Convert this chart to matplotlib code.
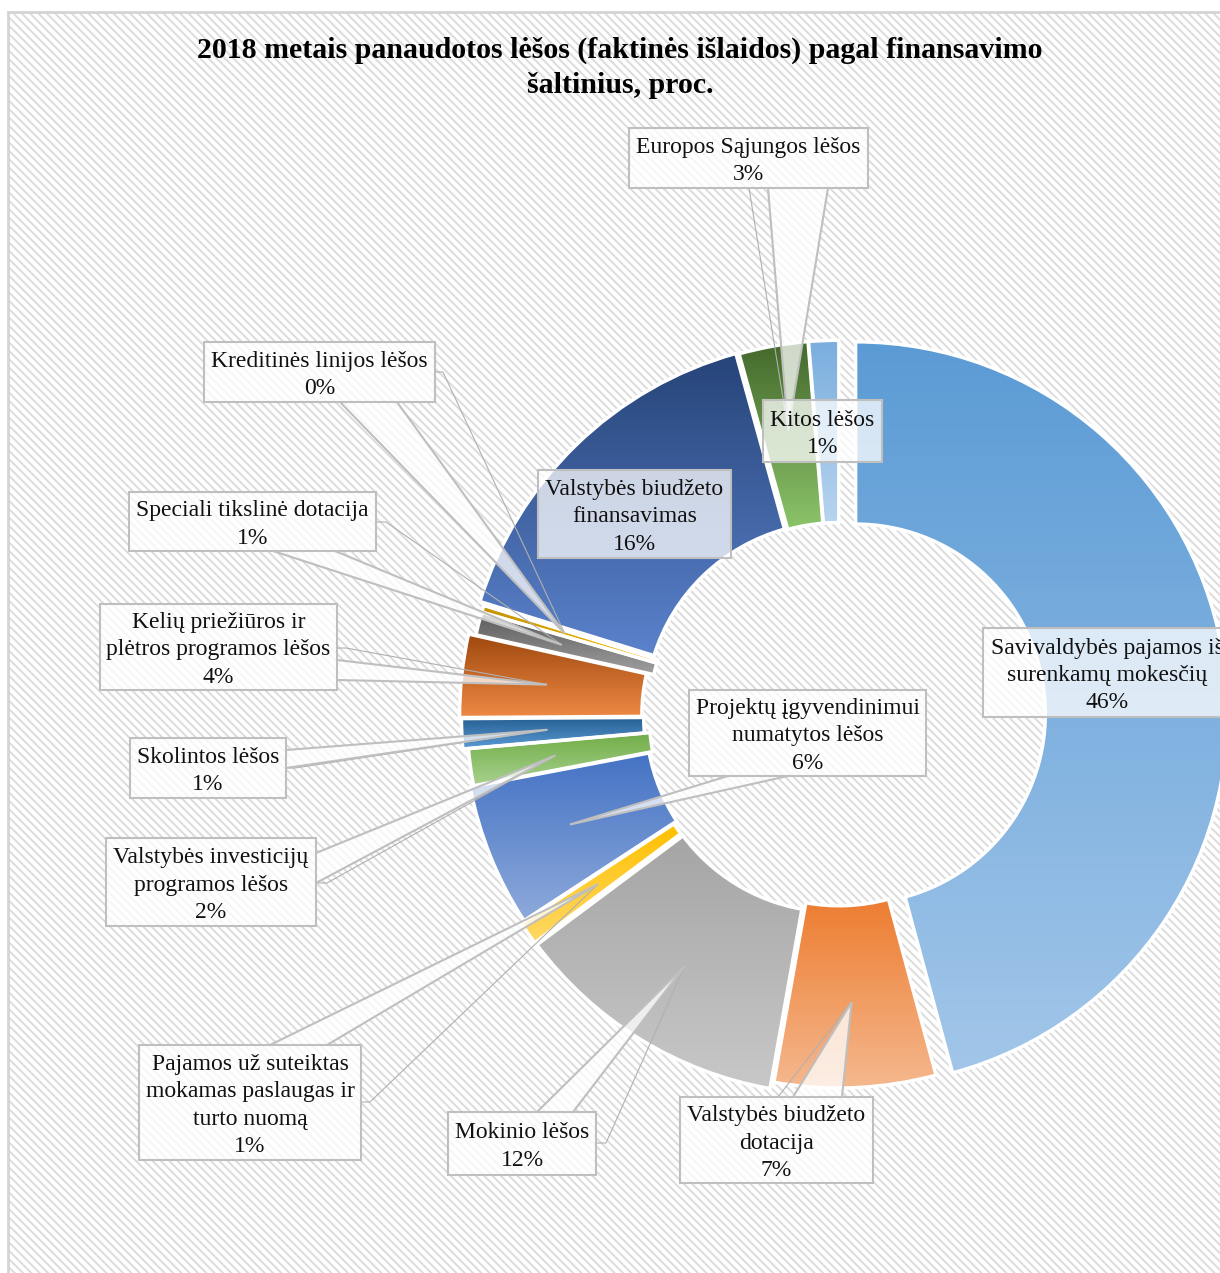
import numpy as np
import matplotlib.pyplot as plt
from matplotlib.patches import Rectangle, Polygon
from matplotlib.colors import LinearSegmentedColormap

# Sources of funds, share of 2018 actual expenditure (%), clockwise from 12 o'clock
sources = [
    "Savivaldybės pajamos iš\nsurenkamų mokesčių",
    "Valstybės biudžeto\ndotacija",
    "Mokinio lėšos",
    "Pajamos už suteiktas\nmokamas paslaugas ir\nturto nuomą",
    "Projektų įgyvendinimui\nnumatytos lėšos",
    "Valstybės investicijų\nprogramos lėšos",
    "Skolintos lėšos",
    "Kelių priežiūros ir\nplėtros programos lėšos",
    "Speciali tikslinė dotacija",
    "Kreditinės linijos lėšos",
    "Valstybės biudžeto\nfinansavimas",
    "Europos Sąjungos lėšos",
    "Kitos lėšos",
]
shares = [45.8, 7.0, 12.0, 1.0, 6.2, 1.6, 1.3, 3.6, 1.0, 0.3, 15.9, 3.0, 1.3]

# gradient colours (top, bottom) per slice
top_colors = ['#5b9bd5', '#ed7d31', '#a5a5a5', '#ffc000', '#4472c4', '#70ad47', '#255e91',
              '#9e480e', '#5a5a5a', '#bf9000', '#264478', '#43682b', '#7aaede']
bottom_colors = ['#a2c6e9', '#f5b88e', '#c8c8c8', '#ffd966', '#8eaadb', '#a9d18e', '#5b9bd5',
                 '#f08a45', '#a0a0a0', '#ffc000', '#5b82cc', '#8cc46a', '#b7d4ef']
explode = [0.045, 0.0, 0.02, 0.02, 0.01, 0.0, 0.015, 0.02, 0.0, 0.0, 0.015, 0.01, 0.01]

# label boxes in pixel coords (x0, y0, x1, y1), y measured from top
boxes = [(983, 628, 1231, 717), (680, 1097, 873, 1183), (448, 1112, 596, 1175),
         (139, 1045, 361, 1160), (689, 690, 926, 776), (106, 838, 316, 926),
         (130, 738, 286, 798), (100, 604, 337, 690), (129, 492, 376, 551),
         (204, 342, 435, 402), (538, 470, 731, 558), (629, 128, 868, 188),
         (763, 400, 882, 462)]
# callout base on box edge and thin leader start
bases = [None, [(793, 1097), (842, 1097)], [(537, 1112), (573, 1112)],
         [(270, 1045), (327, 1045)], [(728, 776), (788, 776)], [(316, 853), (316, 883)],
         [(286, 750), (286, 768)], [(337, 660), (337, 680)], [(273, 551), (335, 551)],
         [(340, 402), (397, 402)], None, [(768, 188), (828, 188)], None]
leaders = [None, [(778, 1097)], [(596, 1143), (606, 1143)], [(361, 1102), (370, 1102)],
           None, [(316, 883), (327, 883)], [(286, 768), (295, 768)], [(337, 648), (346, 648)],
           [(376, 522), (386, 522)], [(435, 372), (443, 372)], None, [(749, 188)], None]

W, H = 1220, 1273
R = 372
serif = ['Liberation Serif', 'DejaVu Serif']

fig = plt.figure(figsize=(W / 100, H / 100), dpi=100)
ax = fig.add_axes([0, 0, 1, 1])

# hatched chart area
plt.rcParams['hatch.linewidth'] = 1.4
ax.add_patch(Rectangle((8, -12), 1230, H, facecolor='white', edgecolor='#dcdcdc',
                       hatch='\\\\\\\\', lw=0, zorder=0))
ax.add_patch(Rectangle((8, -12), 1230, H, facecolor='none', edgecolor='#d4d4d4',
                       lw=2, zorder=0.5))

wedges, _ = ax.pie(shares, radius=R, center=(839, H - 716), startangle=90,
                   counterclock=False, explode=[e * R for e in explode],
                   wedgeprops=dict(width=R * 0.49, edgecolor='white', linewidth=2.5))

grad = np.linspace(0, 1, 256).reshape(-1, 1)
for w, c0, c1 in zip(wedges, top_colors, bottom_colors):
    bb = w.get_path().get_extents()
    cmap = LinearSegmentedColormap.from_list('g', [c1, c0])
    im = ax.imshow(grad, extent=[bb.x0, bb.x1, bb.y0, bb.y1], origin='lower',
                   cmap=cmap, aspect='auto', zorder=2, interpolation='bilinear')
    im.set_clip_path(w)
    w.set_facecolor('none')
    w.set_zorder(3)

# labels with callouts
for i, w in enumerate(wedges):
    mid = np.deg2rad((w.theta1 + w.theta2) / 2)
    tip = (w.center[0] + 0.77 * R * np.cos(mid), w.center[1] + 0.77 * R * np.sin(mid))
    x0, y0, x1, y1 = boxes[i]
    if leaders[i] is not None:
        pts = [(x, H - y) for x, y in leaders[i]] + [tip]
        ax.plot([p[0] for p in pts], [p[1] for p in pts], color='#b0b0b0', lw=0.8, zorder=4)
    if bases[i] is not None:
        (bx0, by0), (bx1, by1) = bases[i]
        ax.add_patch(Polygon([(bx0, H - by0), tip, (bx1, H - by1)], closed=False,
                             facecolor=(1, 1, 1, 0.75), edgecolor='#bfbfbf', lw=1.5, zorder=5))
    ax.add_patch(Rectangle((x0, H - y1), x1 - x0, y1 - y0, facecolor=(1, 1, 1, 0.75),
                           edgecolor='#bfbfbf', lw=1.5, zorder=6))
    ax.text((x0 + x1) / 2, H - (y0 + y1) / 2 - 3, f"{sources[i]}\n{round(shares[i])}%",
            ha='center', va='center', fontsize=17, family=serif, color='#111111',
            linespacing=1.38, zorder=7)

fig.text(620 / W, 1 - 68 / H,
         "2018 metais panaudotos lėšos (faktinės išlaidos) pagal finansavimo\nšaltinius, proc.",
         ha='center', va='center', fontsize=21.5, fontweight='bold', family=serif,
         linespacing=1.4)

ax.set_xlim(0, W)
ax.set_ylim(0, H)
ax.set_aspect('auto')
ax.axis('off')
fig.savefig('out.png', dpi=100)
